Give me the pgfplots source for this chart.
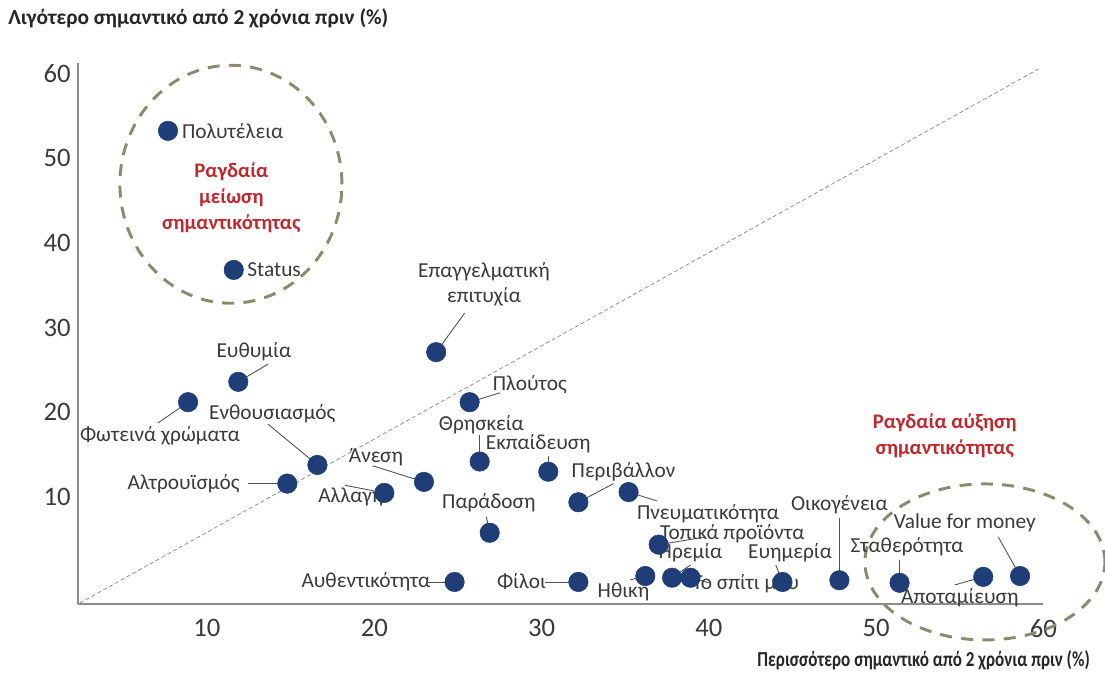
\documentclass[border=0pt]{standalone}
\usepackage{fontspec}
\setmainfont{Carlito}
\usepackage{pgfplots}
\pgfplotsset{compat=1.18}

\definecolor{dotblue}{HTML}{1F3E78}
\definecolor{txtgray}{HTML}{3A3A3A}
\definecolor{hotred}{HTML}{C0282D}
\definecolor{ringcol}{HTML}{8A8A6C}
\definecolor{axisgray}{HTML}{8C8C8C}

\begin{document}
\begin{tikzpicture}[
    lbl/.style={font=\fontsize{16}{19}\selectfont, text=txtgray, inner sep=0pt},
    leader/.style={draw=txtgray!90, line width=0.65pt},
    ring/.style={draw=ringcol, line width=2.2pt, dash pattern=on 9pt off 7pt},
    caption/.style={font=\fontsize{15.5}{19.5}\selectfont\bfseries, text=hotred, align=center},
    axtitle/.style={font=\fontsize{16}{18}\selectfont\bfseries, text=black!85, inner sep=0pt},
  ]
\useasboundingbox (0,0) rectangle (828.75pt,504pt);

\begin{axis}[
    at={(58.5pt,51pt)}, anchor=south west,
    scale only axis, width=724.1pt, height=405.75pt,
    xmin=2.29, xmax=60, ymin=-2.6, ymax=61.2,
    axis lines=left,
    axis line style={axisgray, line width=0.8pt, -},
    xtick={10,20,...,60}, ytick={10,20,...,60},
    major tick length=0pt,
    tick label style={font=\fontsize{20}{20}\selectfont, text=txtgray},
    xticklabel style={yshift=-8pt},
    yticklabel style={xshift=-2pt},
    /pgf/number format/assume math mode=true,
    clip=false,
  ]

% reference diagonal
\addplot[densely dashed, gray, line width=0.5pt] coordinates {(2.41,-2.48) (59.8,60.6)};

% highlighted regions
\draw[ring] (axis cs:11.43,46.9) ellipse [x radius=83.25pt, y radius=89.25pt];
\draw[ring] (axis cs:56.5,2.36) ellipse [x radius=90pt, y radius=58.5pt];

% leader lines
\draw[leader] (axis cs:25.4,31.7) -- (axis cs:23.7,27.1);
\draw[leader] (axis cs:13.66,25.7) -- (axis cs:11.87,23.6);
\draw[leader] (axis cs:7.07,18.75) -- (axis cs:8.87,21.2);
\draw[leader] (axis cs:27.5,22.3) -- (axis cs:25.7,21.2);
\draw[leader] (axis cs:26.3,17.3) -- (axis cs:26.3,14.2);
\draw[leader] (axis cs:30.4,14.9) -- (axis cs:30.4,13.0);
\draw[leader] (axis cs:13.65,18.6) -- (axis cs:16.6,13.8);
\draw[leader] (axis cs:12.45,11.6) -- (axis cs:14.8,11.6);
\draw[leader] (axis cs:19.9,13.7) -- (axis cs:22.97,11.8);
\draw[leader] (axis cs:18.25,11.4) -- (axis cs:20.6,10.5);
\draw[leader] (axis cs:34.3,11.6) -- (axis cs:32.2,9.4);
\draw[leader] (axis cs:36.9,9.55) -- (axis cs:35.2,10.6);
\draw[leader] (axis cs:39.8,5.3) -- (axis cs:37.0,4.4);
\draw[leader] (axis cs:26.7,7.7) -- (axis cs:26.9,5.8);
\draw[leader] (axis cs:23.2,0) -- (axis cs:24.8,0);
\draw[leader] (axis cs:30.2,0) -- (axis cs:32.2,0);
\draw[leader] (axis cs:35.3,0.24) -- (axis cs:36.2,0.7);
\draw[leader] (axis cs:38.9,2.0) -- (axis cs:37.8,0.5);
\draw[leader] (axis cs:40.0,-0.1) -- (axis cs:38.9,0.5);
\draw[leader] (axis cs:44.0,2.0) -- (axis cs:44.4,0);
\draw[leader] (axis cs:47.8,7.5) -- (axis cs:47.8,0.2);
\draw[leader] (axis cs:51.4,2.6) -- (axis cs:51.4,-0.1);
\draw[leader] (axis cs:57.3,5.3) -- (axis cs:58.6,0.7);
\draw[leader] (axis cs:54.7,-0.35) -- (axis cs:56.4,0.6);

% values
\addplot[only marks, mark=*, mark size=7.3pt,
  mark options={fill=dotblue, draw=dotblue}] table {
x    y
7.67 53.2
11.6 36.8
23.7 27.1
11.87 23.6
8.87 21.2
25.7 21.2
26.3 14.2
30.4 13.0
16.6 13.8
14.8 11.6
22.97 11.8
20.6 10.5
32.2 9.4
35.2 10.6
26.9 5.8
37.0 4.4
24.8 0
32.2 0
36.2 0.7
37.8 0.5
38.9 0.5
44.4 0
47.8 0.2
51.4 -0.1
56.4 0.6
58.6 0.7
};

% labels
\node[lbl, anchor=west] at (axis cs:8.5,53.2) {Πολυτέλεια};
\node[lbl, anchor=west] at (axis cs:12.4,36.8) {Status};
\node[lbl, align=center] at (axis cs:26.56,35.1) {Επαγγελματική\\επιτυχία};
\node[lbl] at (axis cs:12.8,27.1) {Ευθυμία};
\node[lbl] at (axis cs:7.19,17.2) {Φωτεινά χρώματα};
\node[lbl] at (axis cs:29.3,23.3) {Πλούτος};
\node[lbl] at (axis cs:26.4,18.6) {Θρησκεία};
\node[lbl] at (axis cs:29.8,16.3) {Εκπαίδευση};
\node[lbl] at (axis cs:13.9,19.8) {Ενθουσιασμός};
\node[lbl] at (axis cs:8.6,11.6) {Αλτρουϊσμός};
\node[lbl] at (axis cs:20.1,14.7) {Άνεση};
\node[lbl] at (axis cs:18.6,10.0) {Αλλαγή};
\node[lbl] at (axis cs:34.9,13.0) {Περιβάλλον};
\node[lbl] at (axis cs:39.95,8.0) {Πνευματικότητα};
\node[lbl] at (axis cs:41.4,5.7) {Τοπικά προϊόντα};
\node[lbl] at (axis cs:26.85,9.3) {Παράδοση};
\node[lbl] at (axis cs:19.5,0) {Αυθεντικότητα};
\node[lbl] at (axis cs:28.8,0) {Φίλοι};
\node[lbl] at (axis cs:34.9,-1.2) {Ηθική};
\node[lbl] at (axis cs:38.9,3.4) {Ηρεμία};
\node[lbl] at (axis cs:42.2,-0.24) {Το σπίτι μου};
\node[lbl] at (axis cs:44.85,3.4) {Ευημερία};
\node[lbl] at (axis cs:47.8,9.1) {Οικογένεια};
\node[lbl] at (axis cs:51.85,4.1) {Σταθερότητα};
\node[lbl] at (axis cs:55.3,7.0) {Value for money};
\node[lbl] at (axis cs:55.0,-1.8) {Αποταμίευση};

% region captions
\node[caption] at (axis cs:11.46,45.3) {Ραγδαία\\μείωση\\σημαντικότητας};
\node[caption] at (axis cs:54.1,17.3) {Ραγδαία αύξηση\\σημαντικότητας};
\end{axis}

% axis titles
\node[axtitle, anchor=west] at (6pt,490.5pt) {Λιγότερο σημαντικό από 2 χρόνια πριν (\%)};
\node[axtitle, anchor=east, transform shape, xscale=0.8] at (817.5pt,9pt)
  {Περισσότερο σημαντικό από 2 χρόνια πριν (\%)};
\end{tikzpicture}
\end{document}
